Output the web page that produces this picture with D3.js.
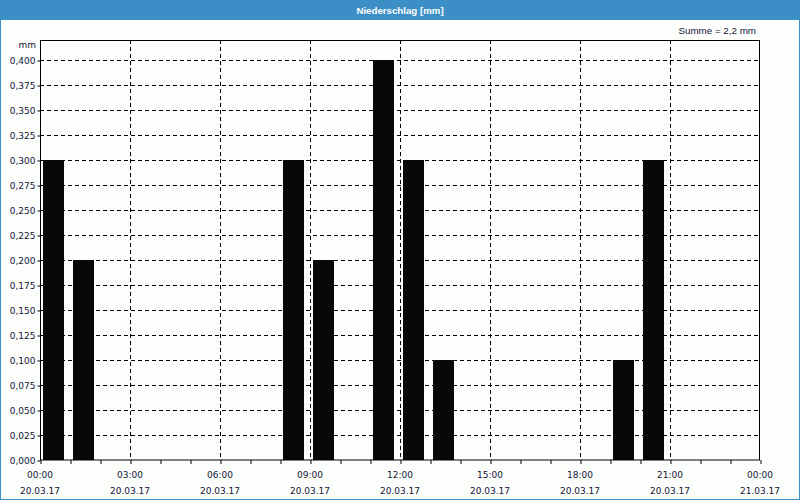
<!DOCTYPE html>
<html><head><meta charset="utf-8">
<script src="https://cdn.jsdelivr.net/npm/d3@7"></script>
<style>
html,body{margin:0;padding:0;background:#fcfefc;}
svg{display:block;font-family:"DejaVu Sans",Verdana,sans-serif;}
</style></head>
<body><svg id="c" width="800" height="500"></svg>
<script>
const title = "Niederschlag [mm]";
const sumLabel = "Summe = 2,2 mm";
const unitLabel = "mm";
const hours = [0, 1, 8, 9, 11, 12, 13, 19, 20];
const values = [0.3, 0.2, 0.3, 0.2, 0.4, 0.3, 0.1, 0.1, 0.3];
const yTicks = [0,0.025,0.05,0.075,0.1,0.125,0.15,0.175,0.2,0.225,0.25,0.275,0.3,0.325,0.35,0.375,0.4];
const xMajor = [0,3,6,9,12,15,18,21,24];
const xTimeLabels = ["00:00","03:00","06:00","09:00","12:00","15:00","18:00","21:00","00:00"];
const xDateLabels = ["20.03.17","20.03.17","20.03.17","20.03.17","20.03.17","20.03.17","20.03.17","20.03.17","21.03.17"];

const svg = d3.select("#c");
const W=800,H=500;
const L=40,R=760,T=40,B=460;
const blue="#3c8fc6";
const txt="#141438";
const dv="'DejaVu Sans', sans-serif";
const lib="'Liberation Sans', Arial, sans-serif";

svg.append("rect").attr("x",0).attr("y",0).attr("width",W).attr("height",H).attr("fill","#fcfefc");
svg.append("rect").attr("x",0.5).attr("y",0.5).attr("width",W-1).attr("height",H-1).attr("fill","none").attr("stroke",blue).attr("stroke-width",1);
svg.append("rect").attr("x",0).attr("y",0).attr("width",W).attr("height",20).attr("fill",blue);
svg.append("text").attr("x",W/2).attr("y",14).attr("text-anchor","middle").attr("fill","#fff")
  .style("font-size","9.7px").style("font-weight","bold").style("font-family",lib).text(title);

const x = d3.scaleLinear().domain([0,24]).range([L,R]);
const y = d3.scaleLinear().domain([0,0.42]).range([B,T]);

// grid
const g = svg.append("g");
g.selectAll("line.hg").data(yTicks.filter(d=>d>0)).enter().append("line")
  .attr("x1",L).attr("x2",R).attr("y1",d=>Math.round(y(d))+0.5).attr("y2",d=>Math.round(y(d))+0.5)
  .attr("stroke","#000").attr("stroke-dasharray","4,3").attr("stroke-width",1);
g.selectAll("line.vg").data(xMajor.filter(d=>d>0&&d<24)).enter().append("line")
  .attr("y1",T).attr("y2",B).attr("x1",d=>Math.round(x(d))+0.5).attr("x2",d=>Math.round(x(d))+0.5)
  .attr("stroke","#000").attr("stroke-dasharray","4,3").attr("stroke-width",1);

// bars
svg.selectAll("rect.bar").data(hours).enter().append("rect")
  .attr("x",(h)=>x(h)+3).attr("width",(h)=>x(h+1)-x(h)-9)
  .attr("y",(h,i)=>y(values[i])).attr("height",(h,i)=>y(0)-y(values[i]))
  .attr("fill","#080808");

// frame
svg.append("rect").attr("x",L+0.5).attr("y",T+0.5).attr("width",R-L-1).attr("height",B-T-0.5)
  .attr("fill","none").attr("stroke","#000").attr("stroke-width",1);

// y axis
const yAxis = d3.axisLeft(y).tickValues(yTicks).tickSize(3)
  .tickFormat(d=>d3.format(".3f")(d).replace(".",","));
const ya = svg.append("g").attr("transform",`translate(${L+0.5},0.5)`).call(yAxis);
ya.select(".domain").remove();
ya.selectAll("text").attr("x",-5).style("font-size","9px").style("fill",txt).style("font-family",dv);
ya.selectAll("line").attr("stroke","#000");

// x axis
const xAxis = d3.axisBottom(x).tickValues(d3.range(0,25)).tickSize(4).tickFormat("");
const xa = svg.append("g").attr("transform",`translate(0.5,${B})`).call(xAxis);
xa.select(".domain").remove();
xa.selectAll("line").attr("stroke","#000");

svg.selectAll("text.xt").data(xMajor).enter().append("text")
  .attr("x",d=>x(d)).attr("y",478).attr("text-anchor","middle")
  .style("font-size","9px").style("fill",txt).style("font-family",dv)
  .text((d,i)=>xTimeLabels[i]);
svg.selectAll("text.xd").data(xMajor).enter().append("text")
  .attr("x",d=>x(d)).attr("y",494).attr("text-anchor","middle")
  .style("font-size","9px").style("fill",txt).style("font-family",dv)
  .text((d,i)=>xDateLabels[i]);

svg.append("text").attr("x",36).attr("y",48).attr("text-anchor","end")
  .style("font-size","9px").style("fill",txt).style("font-family",dv).text(unitLabel);
svg.append("text").attr("x",756).attr("y",34).attr("text-anchor","end")
  .style("font-size","9.8px").style("fill",txt).style("font-family",lib).text(sumLabel);
</script></body></html>
